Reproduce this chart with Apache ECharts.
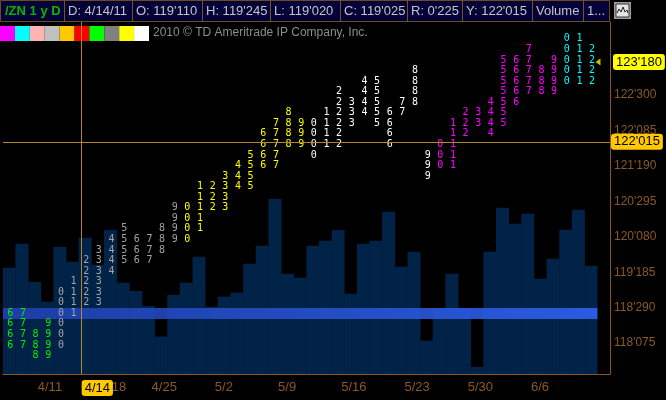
<!DOCTYPE html>
<html>
<head>
<meta charset="utf-8">
<script src="https://cdn.jsdelivr.net/npm/echarts@6/dist/echarts.min.js"></script>
<style>
html, body { margin: 0; padding: 0; background: #000; }
#main { width: 666px; height: 400px; }
</style>
</head>
<body>
<div id="main"></div>
<script>
// one column per trading day, last slot stays empty
var dates = ['4/6', '4/7', '4/8', '4/11', '4/12', '4/13', '4/14', '4/15', '4/18', '4/19', '4/20', '4/21',
    '4/25', '4/26', '4/27', '4/28', '4/29', '5/2', '5/3', '5/4', '5/5', '5/6', '5/9', '5/10', '5/11', '5/12',
    '5/13', '5/16', '5/17', '5/18', '5/19', '5/20', '5/23', '5/24', '5/25', '5/26', '5/27', '5/30', '5/31',
    '6/1', '6/2', '6/3', '6/6', '6/7', '6/8', '6/9', '6/10'];
var weekLabels = ['4/11', '4/18', '4/25', '5/2', '5/9', '5/16', '5/23', '5/30', '6/6'];

// daily volume, thousands of contracts
var volumes = [906, 1111, 784, 616, 1082, 957, 1162, 932, 1227, 778, 707, 580, 318, 673, 778, 1000, 574,
    659, 693, 940, 1094, 1492, 855, 821, 1094, 1136, 1227, 684, 1111, 1136, 1383, 915, 1042, 284, 554, 855,
    554, 60, 1042, 1417, 1281, 1366, 812, 983, 1230, 1400, 923];

// price range of each day's column of digits
var tpoLow = [118.2, 118.2, 118.0, 118.0, 118.2, 118.8, 119.0, 119.0, 119.6, 119.8, 119.8, 119.8, 120.0,
    120.2, 120.2, 120.4, 120.8, 120.8, 121.2, 121.2, 121.6, 121.6, 122.0, 122.0, 121.8, 122.0, 122.0, 122.4,
    122.6, 122.4, 122.0, 122.6, 122.8, 121.4, 121.6, 121.6, 122.2, 122.4, 122.2, 122.4, 122.8, 123.0, 123.0,
    123.0, 123.2, 123.2, 123.2];
var tpoHigh = [118.8, 118.8, 118.4, 118.6, 119.2, 119.4, 119.8, 120.0, 120.2, 120.4, 120.2, 120.2, 120.4,
    120.8, 120.8, 121.2, 121.2, 121.4, 121.6, 121.8, 122.2, 122.4, 122.6, 122.4, 122.4, 122.6, 123.0, 122.8,
    123.2, 123.2, 122.6, 122.8, 123.4, 121.8, 122.0, 122.4, 122.6, 122.6, 122.8, 123.6, 123.6, 123.8, 123.4,
    123.6, 124.0, 124.0, 123.8];
var tpoStep = 0.2;
var firstDigit = 6;
var tpoColors = ['#00f000', '#a4a4a4', '#ffff00', '#ffffff', '#ff00ff', '#00ffff'];

var priceTicks = ["118'075", "118'290", "119'185", "120'080", "120'295", "121'190", "122'085", "122'300", "123'195"];
var lastPrice = "123'180";
var cursorPrice = "122'015";
var cursorDate = '4/14';
var bandLow = 118.69;
var bandHigh = 118.90;

var legendColors = ['#ff00ff', '#00ffff', '#ffb4b4', '#c0c0c0', '#ffc800', '#ff0000', '#00ff00', '#808080', '#ffff00', '#ffffff'];
var headerCells = ['/ZN 1 y D', 'D: 4/14/11', "O: 119'110", "H: 119'245", "L: 119'020", "C: 119'025", "R: 0'225", "Y: 122'015", 'Volume', '1...'];
var headerEdges = [0, 64, 132, 202, 270, 340, 407, 462, 532, 583, 610];

var brown = '#8a5a26';

function parseBond(s) { // 123'180 -> 123 + 18.0/32
    var a = s.split("'");
    return parseInt(a[0], 10) + parseInt(a[1], 10) / 320;
}

function formatBond(v) {
    var w = Math.floor(v + 1e-9);
    var f = String(Math.round((v - w) * 320));
    while (f.length < 3) f = '0' + f;
    return w + "'" + f;
}

var tpoData = [];
for (var i = 0; i < tpoLow.length; i++) {
    var n = Math.round((tpoHigh[i] - tpoLow[i]) / tpoStep);
    for (var k = 0; k <= n; k++) {
        tpoData.push([i + 0.5, tpoLow[i] + k * tpoStep, (i + firstDigit) % 10, Math.floor((i + firstDigit) / 10)]);
    }
}

var barData = volumes.map(function (v, i) { return [i + 0.5, v]; });
var cursorX = dates.indexOf(cursorDate) + 0.22;

// header, colour key, copyright
var graphics = [];
graphics.push({ type: 'rect', shape: { x: 0.5, y: 0.5, width: 609, height: 21 },
    style: { fill: '#03033a', stroke: '#6e4a1c', lineWidth: 1 }, z: 10 });
for (var h = 0; h < headerCells.length; h++) {
    if (h > 0) {
        graphics.push({ type: 'line', shape: { x1: headerEdges[h] + 0.5, y1: 0, x2: headerEdges[h] + 0.5, y2: 22 },
            style: { stroke: '#7a5220', lineWidth: 1 }, z: 11 });
    }
    graphics.push({ type: 'text', x: headerEdges[h] + (h === 0 ? 5 : 4), y: 11, z: 12,
        style: { text: headerCells[h], fill: h === 0 ? '#00b800' : '#c4c4c4',
            font: (h === 0 ? 'bold ' : '') + '13px "Liberation Sans"', textVerticalAlign: 'middle' } });
}
graphics.push({ type: 'rect', shape: { x: 614, y: 2, width: 17, height: 17 }, style: { fill: '#9c9c9c' }, z: 10 });
graphics.push({ type: 'rect', shape: { x: 616, y: 4, width: 13, height: 13 }, style: { fill: '#e4e4e4', stroke: '#3a3a3a' }, z: 11 });
graphics.push({ type: 'polyline', shape: { points: [[617, 13], [619, 9], [621, 12], [623, 7], [625, 12], [627, 10], [628, 13]] },
    style: { stroke: '#202020', lineWidth: 1, fill: null }, z: 12 });
for (var c = 0; c < legendColors.length; c++) {
    graphics.push({ type: 'rect', shape: { x: c * 14.9, y: 26, width: 14.9, height: 15 },
        style: { fill: legendColors[c] }, z: 1 });
}
graphics.push({ type: 'text', x: 153, y: 33, z: 1,
    style: { text: '2010 \u00a9 TD Ameritrade IP Company, Inc.', fill: '#8c8c8c',
        font: '12px "Liberation Sans"', textVerticalAlign: 'middle' } });

var boxLabel = {
    show: true, color: '#000', borderRadius: 3, padding: [2, 3, 1, 3],
    fontSize: 13, fontFamily: 'Liberation Sans'
};

var option = {
    backgroundColor: '#000',
    animation: false,
    graphic: graphics,
    grid: { left: 0, right: 56, top: 22, bottom: 26, containLabel: false },
    xAxis: {
        type: 'value', min: 0, max: dates.length + 1, interval: 0.25,
        axisLine: { show: true, onZero: false, lineStyle: { color: brown, width: 1 } },
        axisTick: { show: false },
        splitLine: { show: false },
        axisLabel: {
            color: brown, fontSize: 13, fontFamily: 'Liberation Sans', align: 'left', margin: 7,
            formatter: function (v) { // label sits a little left of its day's column
                var idx = Math.round(v + 0.25);
                if (Math.abs(v + 0.25 - idx) > 1e-6) return '';
                var d = dates[idx];
                return weekLabels.indexOf(d) >= 0 ? d : '';
            }
        }
    },
    yAxis: [{
        type: 'value', position: 'right', min: 117.65, max: 124.32,
        axisLine: { show: true, onZero: false, lineStyle: { color: brown, width: 1 } },
        axisTick: { show: false },
        splitLine: { show: false },
        axisLabel: {
            color: brown, fontSize: 12, fontFamily: 'Liberation Sans', margin: 4,
            customValues: priceTicks.map(parseBond),
            formatter: function (v) { return formatBond(v); }
        }
    }, {
        type: 'value', min: 0, max: 3000, show: false
    }],
    series: [{
        type: 'bar',
        yAxisIndex: 1,
        data: barData,
        barWidth: 13,
        itemStyle: { color: '#012347' },
        silent: true,
        z: 1
    }, {
        type: 'line',
        data: [],
        z: 2,
        markArea: {
            silent: true,
            z: 2,
            label: { show: false },
            itemStyle: {
                color: new echarts.graphic.LinearGradient(0, 0, 1, 0, [
                    { offset: 0, color: 'rgba(34,66,180,0.85)' },
                    { offset: 1, color: 'rgba(44,94,232,0.95)' }
                ])
            },
            data: [[{ xAxis: 0, yAxis: bandLow }, { xAxis: volumes.length, yAxis: bandHigh }]]
        }
    }, {
        type: 'custom',
        data: tpoData,
        silent: true,
        z: 3,
        renderItem: function (params, api) {
            var pt = api.coord([api.value(0), api.value(1)]);
            return {
                type: 'text',
                x: pt[0] + 1,
                y: pt[1],
                style: {
                    text: String(api.value(2)),
                    fill: tpoColors[api.value(3)],
                    font: '10px "DejaVu Sans Mono"',
                    textAlign: 'center',
                    textVerticalAlign: 'middle'
                }
            };
        }
    }, {
        type: 'line',
        data: [],
        z: 5,
        markLine: {
            silent: true,
            symbol: ['none', 'none'],
            data: [{
                yAxis: parseBond(cursorPrice),
                lineStyle: { color: '#b8862b', width: 1, type: 'solid' },
                label: Object.assign({}, boxLabel, { position: 'end', formatter: cursorPrice,
                    backgroundColor: '#ffc800', distance: 1 })
            }, {
                yAxis: parseBond(lastPrice),
                lineStyle: { color: 'rgba(0,0,0,0)', width: 0 },
                label: Object.assign({}, boxLabel, { position: 'end', formatter: lastPrice,
                    backgroundColor: '#ffff00', distance: 3 })
            }, {
                xAxis: cursorX,
                lineStyle: { color: '#b8862b', width: 1, type: 'solid' },
                label: Object.assign({}, boxLabel, { position: 'start', formatter: cursorDate,
                    backgroundColor: '#ffc800', distance: 6, align: 'left' })
            }]
        },
        markPoint: {
            silent: true,
            symbol: 'triangle',
            symbolSize: [7, 5],
            symbolRotate: 90,
            itemStyle: { color: '#c4c400' },
            label: { show: false },
            data: [{ coord: [volumes.length + 0.05, parseBond(lastPrice)] }]
        }
    }]
};

var chart = echarts.init(document.getElementById('main'));
chart.setOption(option);
</script>
</body>
</html>
